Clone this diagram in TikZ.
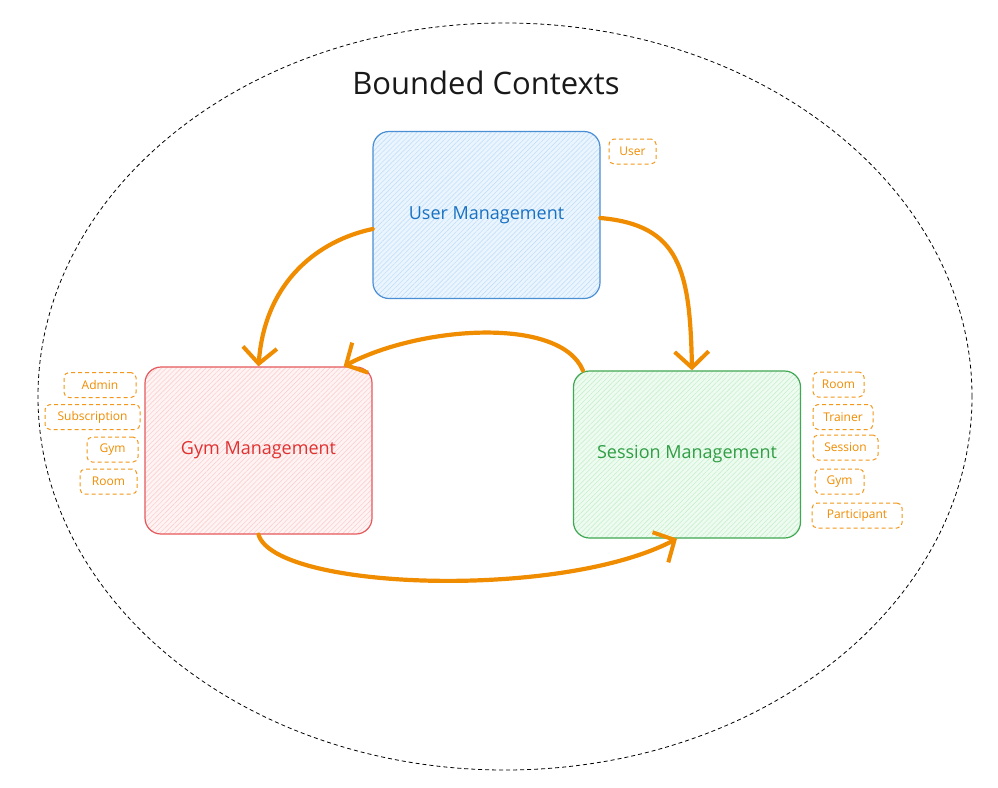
\documentclass[tikz,border=0pt]{standalone}
\usepackage{fontspec}
\setmainfont{Open Sans}
\usetikzlibrary{arrows.meta,patterns.meta,shapes.geometric}
\definecolor{orng}{HTML}{F08C00}
\definecolor{bstroke}{HTML}{4A8ED4}
\definecolor{btext}{HTML}{1971C2}
\definecolor{bfill}{HTML}{EAF5FF}
\definecolor{bhatch}{HTML}{C5E0F8}
\definecolor{rstroke}{HTML}{E5595C}
\definecolor{rtext}{HTML}{E03131}
\definecolor{rfill}{HTML}{FFF3F3}
\definecolor{rhatch}{HTML}{FAD0D0}
\definecolor{gstroke}{HTML}{40A852}
\definecolor{gtext}{HTML}{2F9E44}
\definecolor{gfill}{HTML}{EEFBF0}
\definecolor{ghatch}{HTML}{C8EFCF}
\tikzset{
  ctxbox/.style n args={4}{draw=#1, line width=1.2pt, rounded corners=16pt,
    preaction={fill=#2}, pattern={Lines[angle=45,distance=3.5pt,line width=0.6pt]},
    pattern color=#3, text=#4, font=\fontsize{18}{21}\selectfont,
    minimum width=227pt, minimum height=167pt, inner sep=0pt},
  tag/.style={draw=orng!90, dashed, dash pattern=on 4pt off 3pt, line width=1pt,
    rounded corners=5pt, text=orng, font=\fontsize{12}{14}\selectfont,
    minimum height=25pt, inner sep=0pt},
  flow/.style={draw=orng, line width=4.2pt, line cap=round,
    -{Straight Barb[length=16pt,width=34pt,line width=4pt]}},
}
\begin{document}
\begin{tikzpicture}[x=1pt,y=-1pt]
\useasboundingbox (0,0) rectangle (998,787);
\fill[white] (0,0) rectangle (998,787);
\node[draw=black, dashed, dash pattern=on 4pt off 3pt, line width=0.8pt, ellipse,
  minimum width=934pt, minimum height=747pt, inner sep=0pt] (bound) at (505,396.5) {};
\node[font=\fontsize{31}{35}\selectfont, text=black!90] (title) at (486,83) {Bounded Contexts};

\node[ctxbox={bstroke}{bfill}{bhatch}{btext}] (user) at (486.5,215) {User Management};
\node[ctxbox={rstroke}{rfill}{rhatch}{rtext}] (gym) at (258.5,450.5) {Gym Management};
\node[ctxbox={gstroke}{gfill}{ghatch}{gtext}] (session) at (687,454.5) {Session Management};

% tags
\node[tag, minimum width=47pt] (tuser) at (632.5,151.5) {User};
\node[tag, minimum width=72pt] (tadmin) at (100,385) {Admin};
\node[tag, minimum width=95pt] (tsub) at (92.5,417) {Subscription};
\node[tag, minimum width=51pt] (tgym) at (112.5,449.5) {Gym};
\node[tag, minimum width=57pt] (troom) at (108.5,481.5) {Room};
\node[tag, minimum width=51pt] (sroom) at (838.5,384.5) {Room};
\node[tag, minimum width=60pt] (strainer) at (843,417) {Trainer};
\node[tag, minimum width=65pt] (ssession) at (845.5,447.5) {Session};
\node[tag, minimum width=49pt] (sgym) at (839.5,481.5) {Gym};
\node[tag, minimum width=90pt] (spart) at (857,515.5) {Participant};

% connectors
\draw[flow] ([yshift=-14pt]user.west) .. controls (320,240) and (265,280) .. (gym.north);
\draw[flow] ([yshift=-3pt]user.east) .. controls (680,225) and (690,270) .. ([xshift=5pt]session.north);
\draw[flow] ([xshift=10pt]session.north west) .. controls (560,316) and (420,326) .. ([xshift=-29pt]gym.north east);
\draw[flow] (gym.south) .. controls (275,590) and (560,600) .. ([xshift=-10pt]session.south);
\end{tikzpicture}
\end{document}
